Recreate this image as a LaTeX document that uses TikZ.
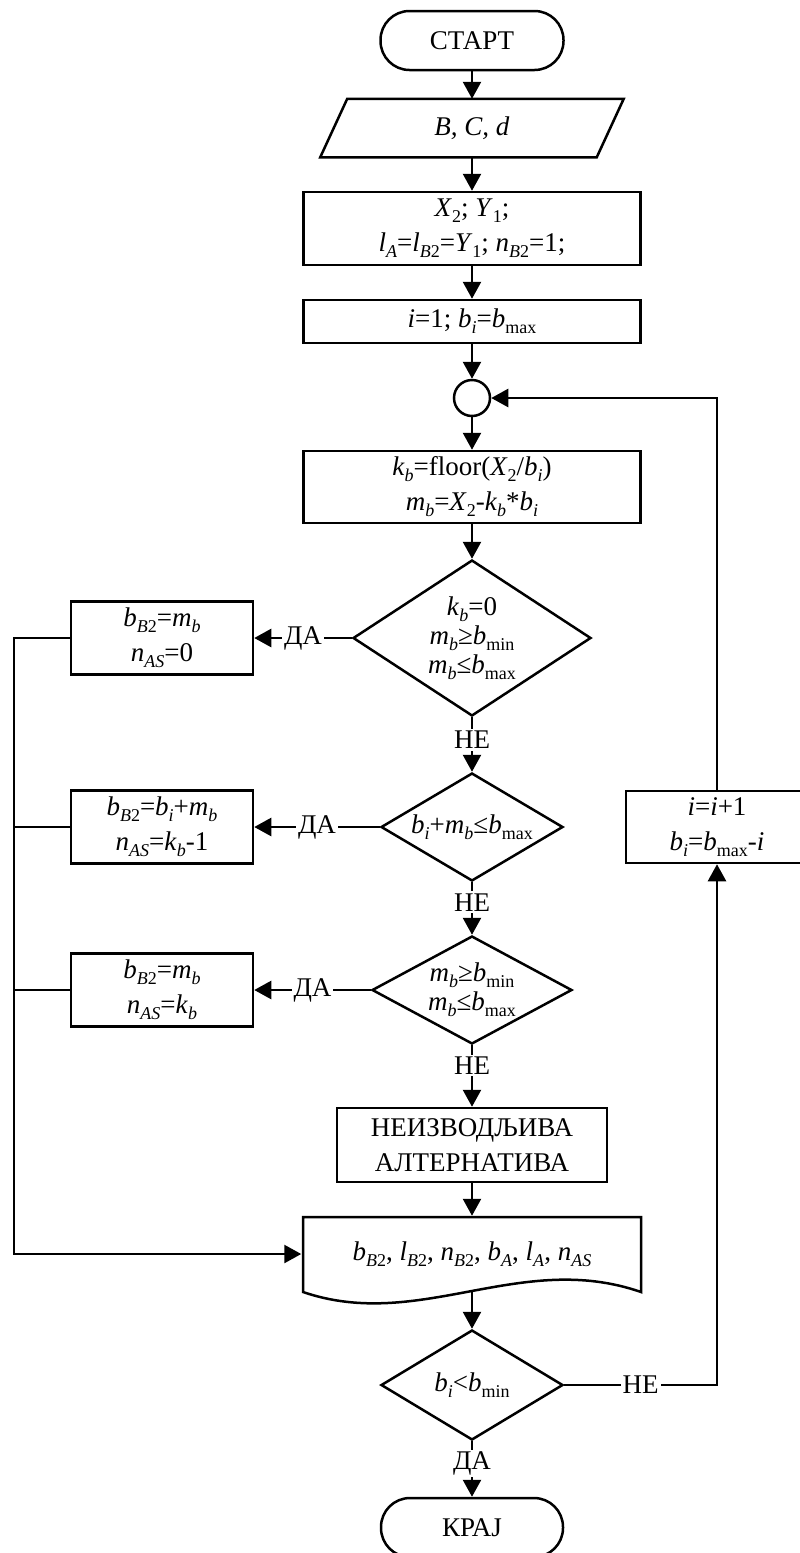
\documentclass[tikz,border=0pt]{standalone}
\usepackage{fontspec}
\setmainfont{Liberation Serif}
\usetikzlibrary{shapes.geometric,arrows.meta,calc}
\newcommand\lo[1]{\raisebox{-0.22em}{\fontsize{18}{18}\selectfont #1}}
\newcommand\iv[1]{\textit{#1}}
\newcommand\vs[2]{\textit{#1}\lo{#2}}
\begin{document}
\begin{tikzpicture}[x=1pt,y=-1pt,line width=2.5pt,
  every node/.style={font=\fontsize{27}{35}\selectfont,inner sep=0pt,align=center},
  box/.style={draw,rectangle},
  term/.style={draw,rectangle,rounded corners=29pt},
  dia/.style={draw,diamond},
  dtext/.style={font=\fontsize{27}{29}\selectfont},
  ghost/.style={rectangle},
  arr/.style={-{Triangle[length=17pt,width=18pt]}},
  lbl/.style={fill=white,inner sep=2pt}]
\useasboundingbox (0,0) rectangle (800,1553);
\fill[white] (0,0) rectangle (800,1553);
\clip (0,0) rectangle (800,1553);

% main column
\node[term,minimum width=183pt,minimum height=59pt] (start) at (472,40.5) {СТАРТ};
\node[ghost,minimum width=274pt,minimum height=56pt] (par) at (472,128) {\iv{B, C, d}};
\draw ($(par.north west)+(13.5,0)$) -- ($(par.north east)+(13.5,0)$)
   -- ($(par.south east)+(-13.5,0)$) -- ($(par.south west)+(-13.5,0)$) -- cycle;
\node[box,minimum width=337pt,minimum height=73pt] (inp) at (472,228.5)
  {\vs{X}{2}; \vs{Y}{1};\\ \vs{l}{\iv{A}}=\vs{l}{\iv{B}2}=\vs{Y}{1}; \vs{n}{\iv{B}2}=1;};
\node[box,minimum width=337pt,minimum height=43pt] (init) at (472,321.5)
  {\iv{i}=1; \vs{b}{\iv{i}}=\vs{b}{max}};
\node[draw,circle,minimum size=36pt] (join) at (472,398) {};
\node[box,minimum width=337pt,minimum height=72pt] (calc) at (472,487)
  {\vs{k}{\iv{b}}=floor(\vs{X}{2}/\vs{b}{\iv{i}})\\ \vs{m}{\iv{b}}=\vs{X}{2}-\vs{k}{\iv{b}}*\vs{b}{\iv{i}}};
\node[dia,minimum width=238pt,minimum height=156pt] (d1) at (472,638) {};
\node[dtext] (d1t) at (d1) {\vs{k}{\iv{b}}=0\\ \vs{m}{\iv{b}}≥\vs{b}{min}\\ \vs{m}{\iv{b}}≤\vs{b}{max}};
\node[dia,minimum width=182pt,minimum height=108pt] (d2) at (472,827) {};
\node[dtext] (d2t) at (d2) {\vs{b}{\iv{i}}+\vs{m}{\iv{b}}≤\vs{b}{max}};
\node[dia,minimum width=200pt,minimum height=108pt] (d3) at (472,990) {};
\node[dtext] (d3t) at (d3) {\vs{m}{\iv{b}}≥\vs{b}{min}\\ \vs{m}{\iv{b}}≤\vs{b}{max}};
\node[box,minimum width=270pt,minimum height=74pt] (nei) at (472,1145)
  {НЕИЗВОДЉИВА\\ АЛТЕРНАТИВА};
\node[ghost,minimum width=339pt,minimum height=74pt] (doc) at (472,1254)
  {\vs{b}{\iv{B}2}, \vs{l}{\iv{B}2}, \vs{n}{\iv{B}2}, \vs{b}{\iv{A}}, \vs{l}{\iv{A}}, \vs{n}{\iv{AS}}};
\draw (303,1292) -- (303,1217) -- (641,1217) -- (641,1292)
   .. controls (520,1250) and (420,1332) .. (303,1292) -- cycle;
\node[dia,minimum width=182pt,minimum height=110pt] (d4) at (472,1385) {};
\node[dtext] (d4t) at (d4) {\vs{b}{\iv{i}}<\vs{b}{min}};
\node[term,minimum width=182pt,minimum height=59pt] (kraj) at (472,1527.5) {КРАЈ};

% left column
\node[box,minimum width=182pt,minimum height=73pt] (y1) at (162,638)
  {\vs{b}{\iv{B}2}=\vs{m}{\iv{b}}\\ \vs{n}{\iv{AS}}=0};
\node[box,minimum width=182pt,minimum height=73pt] (y2) at (162,827)
  {\vs{b}{\iv{B}2}=\vs{b}{\iv{i}}+\vs{m}{\iv{b}}\\ \vs{n}{\iv{AS}}=\vs{k}{\iv{b}}-1};
\node[box,minimum width=182pt,minimum height=73pt] (y3) at (162,990)
  {\vs{b}{\iv{B}2}=\vs{m}{\iv{b}}\\ \vs{n}{\iv{AS}}=\vs{k}{\iv{b}}};

% right column
\node[box,minimum width=182pt,minimum height=72pt] (inc) at (717,827)
  {\iv{i}=\iv{i}+1\\ \vs{b}{\iv{i}}=\vs{b}{max}-\iv{i}};

\coordinate (bus) at (14,1254);

% connectors
\draw[arr] (start) -- (par);
\draw[arr] (par) -- (inp);
\draw[arr] (inp) -- (init);
\draw[arr] (init) -- (join);
\draw[arr] (join) -- (calc);
\draw[arr] (calc) -- (d1);
\draw[arr] (d1.south) -- node[lbl,pos=0.42]{НЕ} (d2.north);
\draw[arr] (d2.south) -- node[lbl,pos=0.38]{НЕ} (d3.north);
\draw[arr] (d3.south) -- node[lbl,pos=0.33]{НЕ} (nei.north);
\draw[arr] (nei) -- (doc);
\draw[arr] (doc.south) -- (d4.north);
\draw[arr] (d4.south) -- node[lbl,pos=0.4]{ДА} (kraj.north);
\draw[arr] (d1.west) -- node[lbl]{ДА} (y1.east);
\draw[arr] (d2.west) -- node[lbl]{ДА} (y2.east);
\draw[arr] (d3.west) -- node[lbl]{ДА} (y3.east);
\draw[arr] (y1.west) -| (bus) -- (doc.west);
\draw (y2.west) -- (y2.west -| bus);
\draw (y3.west) -- (y3.west -| bus);
\draw[arr] (d4.east) -- node[lbl]{НЕ} (d4.east -| inc.south) -- (inc.south);
\draw[arr] (inc.north) |- (join.east);
\end{tikzpicture}
\end{document}
